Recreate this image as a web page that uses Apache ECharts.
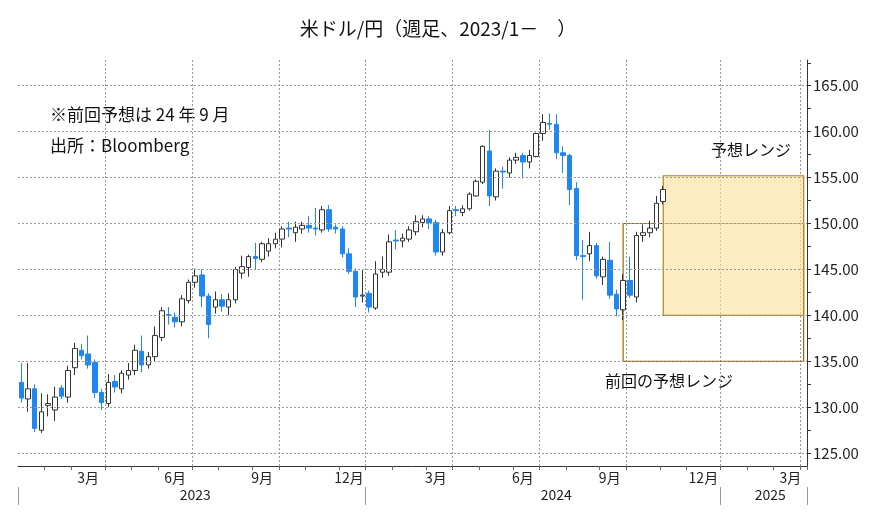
<!DOCTYPE html>
<html><head><meta charset="utf-8">
<script src="https://cdn.jsdelivr.net/npm/echarts@6/dist/echarts.min.js"></script>
<style>html,body{margin:0;padding:0;background:#fff}#c{width:876px;height:521px}</style>
</head><body><div id="c"></div>
<script>
const FONT = '"Noto Sans CJK JP", "Noto Sans", sans-serif';
// weekly candles [open, close, low, high], USD/JPY from week of 2023-01-02
const candles = [
[132.7,131.0,130.5,134.8],[130.9,132.0,129.5,134.8],[132.0,127.7,127.3,132.5],[127.5,129.5,127.2,131.5],
[130.2,130.4,129.0,131.4],[129.7,131.1,128.5,132.2],[132.1,131.2,130.9,132.4],[131.1,134.0,130.5,134.5],
[134.3,136.4,133.5,137.0],[136.2,135.6,135.2,136.9],[135.8,134.6,134.2,137.8],[134.9,131.6,131.0,135.2],
[131.6,130.5,129.7,132.0],[130.4,132.7,130.0,133.6],[132.8,132.2,131.6,133.5],[132.0,133.7,131.5,134.0],
[133.5,134.0,133.0,134.8],[134.0,136.2,133.5,136.8],[136.1,134.6,133.8,137.8],[134.6,135.5,134.2,136.0],
[135.5,137.8,135.0,138.8],[137.6,140.5,137.2,140.9],[140.1,140.0,139.0,140.9],[139.8,139.3,138.7,140.3],
[139.3,141.8,138.8,142.2],[141.6,143.6,141.3,143.9],[143.6,144.3,143.0,145.1],[144.4,142.1,140.9,145.0],
[142.1,139.0,137.5,142.4],[140.9,141.7,140.2,142.6],[141.7,141.0,140.4,142.3],[140.9,141.7,140.0,142.4],
[141.7,145.0,141.3,145.3],[144.6,145.3,144.0,146.5],[145.2,146.4,144.2,146.6],[146.4,146.2,145.0,147.9],
[146.1,147.8,145.8,148.0],[147.0,147.8,146.4,148.4],[147.8,148.3,147.3,149.0],[148.3,149.4,147.4,149.7],
[149.5,149.4,148.5,150.2],[149.0,149.6,148.0,150.2],[149.4,149.8,148.9,150.2],[149.8,149.5,149.0,150.8],
[149.5,149.4,148.7,151.7],[149.3,151.5,149.0,151.9],[151.5,149.4,149.1,152.0],[149.6,149.4,148.9,149.9],
[149.4,146.7,146.3,149.7],[146.7,144.8,144.5,147.3],[144.8,142.0,140.9,145.1],[142.1,142.2,141.4,144.9],
[142.4,140.9,140.3,142.7],[140.8,144.5,140.6,145.9],[144.7,145.0,144.1,146.4],[144.7,148.0,144.3,148.8],
[148.2,148.1,147.2,149.3],[148.1,148.4,147.4,148.9],[148.3,149.3,148.0,149.7],[149.1,150.2,148.7,150.9],
[150.1,150.5,149.6,150.9],[150.5,150.1,149.4,150.8],[150.1,146.9,146.5,150.4],[146.9,149.0,146.5,149.4],
[149.0,151.4,148.8,151.9],[151.5,151.4,150.8,151.9],[151.2,151.6,150.8,152.0],[151.6,153.2,151.4,153.4],
[153.0,154.6,152.9,154.8],[154.5,158.4,154.3,158.5],[157.9,153.0,151.9,160.2],[152.9,155.7,152.5,156.0],
[155.7,155.6,153.8,156.2],[155.5,156.9,155.0,157.2],[156.9,157.2,156.5,157.7],[157.4,156.7,154.9,157.7],
[156.7,157.4,156.0,158.0],[157.3,159.8,157.2,159.9],[159.8,161.0,159.0,161.9],[160.9,160.8,160.2,162.0],
[160.8,157.7,157.0,161.9],[157.7,157.4,155.5,158.4],[157.4,153.7,152.0,157.6],[153.8,146.5,146.0,154.5],
[146.5,146.4,141.7,148.2],[146.7,147.6,145.9,149.1],[147.6,144.3,144.0,147.9],[144.2,146.1,143.3,146.4],
[146.0,142.2,141.8,148.0],[142.3,140.7,139.9,142.8],[140.6,143.8,139.5,144.5],[143.8,142.2,141.9,146.4],
[142.0,148.7,141.4,149.1],[148.7,149.0,148.0,149.9],[149.0,149.5,148.5,150.3],[149.5,152.2,149.2,153.0],
[152.4,153.7,152.1,154.1]
];
const lastPrice = 153.63;
const forecastRange = [140.0, 155.2];      // 予想レンジ
const prevForecastRange = [135.0, 150.0];  // 前回の予想レンジ
const forecastStartIdx = 96;
const prevForecastStartIdx = 90;
const yTicks = [125,130,135,140,145,150,155,160,165];
const yMinorTicks = [125,127.5,130,132.5,135,137.5,140,142.5,145,147.5,150,152.5,155,157.5,160,162.5,165,167.5];
const monthLabels = {10:'3月',23:'6月',36:'9月',49:'12月',62:'3月',75:'6月',88:'9月',102:'12月',115:'3月'};
const yearLabels = {26:'2023',80:'2024',112:'2025'};
const quarterLines = [13,26,39,52,65,78,91,105,117];
const monthTicks = [4,8,13,17,21,26,30,35,39,43,48,52,56,61,65,69,74,78,82,87,91,96,100,105,109,113,117];
const yearTicks = [0,52,105];
const NWEEKS = 118;
const weeks = [];
for (let i=0;i<NWEEKS;i++){ const d=new Date(Date.UTC(2023,0,2+7*i)); weeks.push(d.toISOString().slice(0,10)); }

const chart = echarts.init(document.getElementById('c'));
chart.setOption({
  animation:false,
  backgroundColor:'#fff',
  title:{text:'米ドル/円（週足、2023/1－　）',left:'center',top:14,textStyle:{fontFamily:FONT,fontSize:19,fontWeight:'normal',color:'#111'}},
  grid:{left:18,right:69,top:60,bottom:55},
  xAxis:[{
    type:'category',data:weeks,boundaryGap:true,
    axisLine:{lineStyle:{color:'#333'}},
    axisTick:{show:true,interval:(i)=>monthTicks.includes(i),length:4,lineStyle:{color:'#666'}},
    splitLine:{show:true,interval:(i)=>quarterLines.includes(i),lineStyle:{color:'#999',type:[2,2]}},
    axisLabel:{interval:(i)=>monthLabels[i]!==undefined,formatter:(v,i)=>monthLabels[i]||'',fontFamily:FONT,fontSize:14,color:'#222',margin:5}
  },{
    type:'category',data:weeks,boundaryGap:true,position:'bottom',offset:21,
    axisLine:{show:false},
    axisTick:{show:true,interval:(i)=>yearTicks.includes(i),length:18,lineStyle:{color:'#999'}},
    splitLine:{show:false},
    axisLabel:{interval:(i)=>yearLabels[i]!==undefined,formatter:(v,i)=>yearLabels[i]||'',fontFamily:FONT,fontSize:14,color:'#222',margin:1}
  }],
  yAxis:{
    type:'value',position:'right',min:123.6,max:167.8,
    axisLine:{show:true,lineStyle:{color:'#333'}},
    axisTick:{show:true,customValues:yMinorTicks,length:4,lineStyle:{color:'#333'}},
    axisLabel:{customValues:yTicks,formatter:(v)=>v.toFixed(2),fontFamily:FONT,fontSize:15,color:'#222',margin:6},
    splitLine:{show:false}
  },
  series:[{
    type:'candlestick',data:candles,barWidth:5,
    itemStyle:{color:'#ffffff',color0:'#1e88f0',borderColor:'#333',borderColor0:'#1e88f0',borderWidth:1},
    markLine:{silent:true,symbol:'none',animation:false,
      data:[
        ...yTicks.map(v=>({yAxis:v,lineStyle:{color:'#999',type:[2,2],width:1},label:{show:false}})),
        {yAxis:lastPrice,lineStyle:{opacity:0},label:{show:true,position:'end',formatter:lastPrice.toFixed(2),backgroundColor:'#000',color:'#fff',fontFamily:FONT,fontSize:15,padding:[2,3,1,5],distance:6}}
      ]},
    markArea:{silent:true,
      data:[
        [{xAxis:prevForecastStartIdx,yAxis:prevForecastRange[0],itemStyle:{color:'rgba(0,0,0,0)',borderColor:'#9a6a00',borderWidth:1.2}},{xAxis:NWEEKS-1,yAxis:prevForecastRange[1]}],
        [{xAxis:forecastStartIdx,yAxis:forecastRange[0],itemStyle:{color:'rgba(252,226,160,0.65)',borderColor:'#b8860b',borderWidth:1.2}},{xAxis:NWEEKS-1,yAxis:forecastRange[1]}]
      ]}
  }],
  graphic:[
    {type:'text',left:50,top:106,style:{text:'※前回予想は 24 年 9 月',font:'17px '+FONT,fill:'#111'}},
    {type:'text',left:50,top:137,style:{text:'出所：Bloomberg',font:'17px '+FONT,fill:'#111'}},
    {type:'text',left:711,top:142,style:{text:'予想レンジ',font:'16px '+FONT,fill:'#111'}},
    {type:'text',left:605,top:373,style:{text:'前回の予想レンジ',font:'16px '+FONT,fill:'#111'}}
  ]
});
</script></body></html>
